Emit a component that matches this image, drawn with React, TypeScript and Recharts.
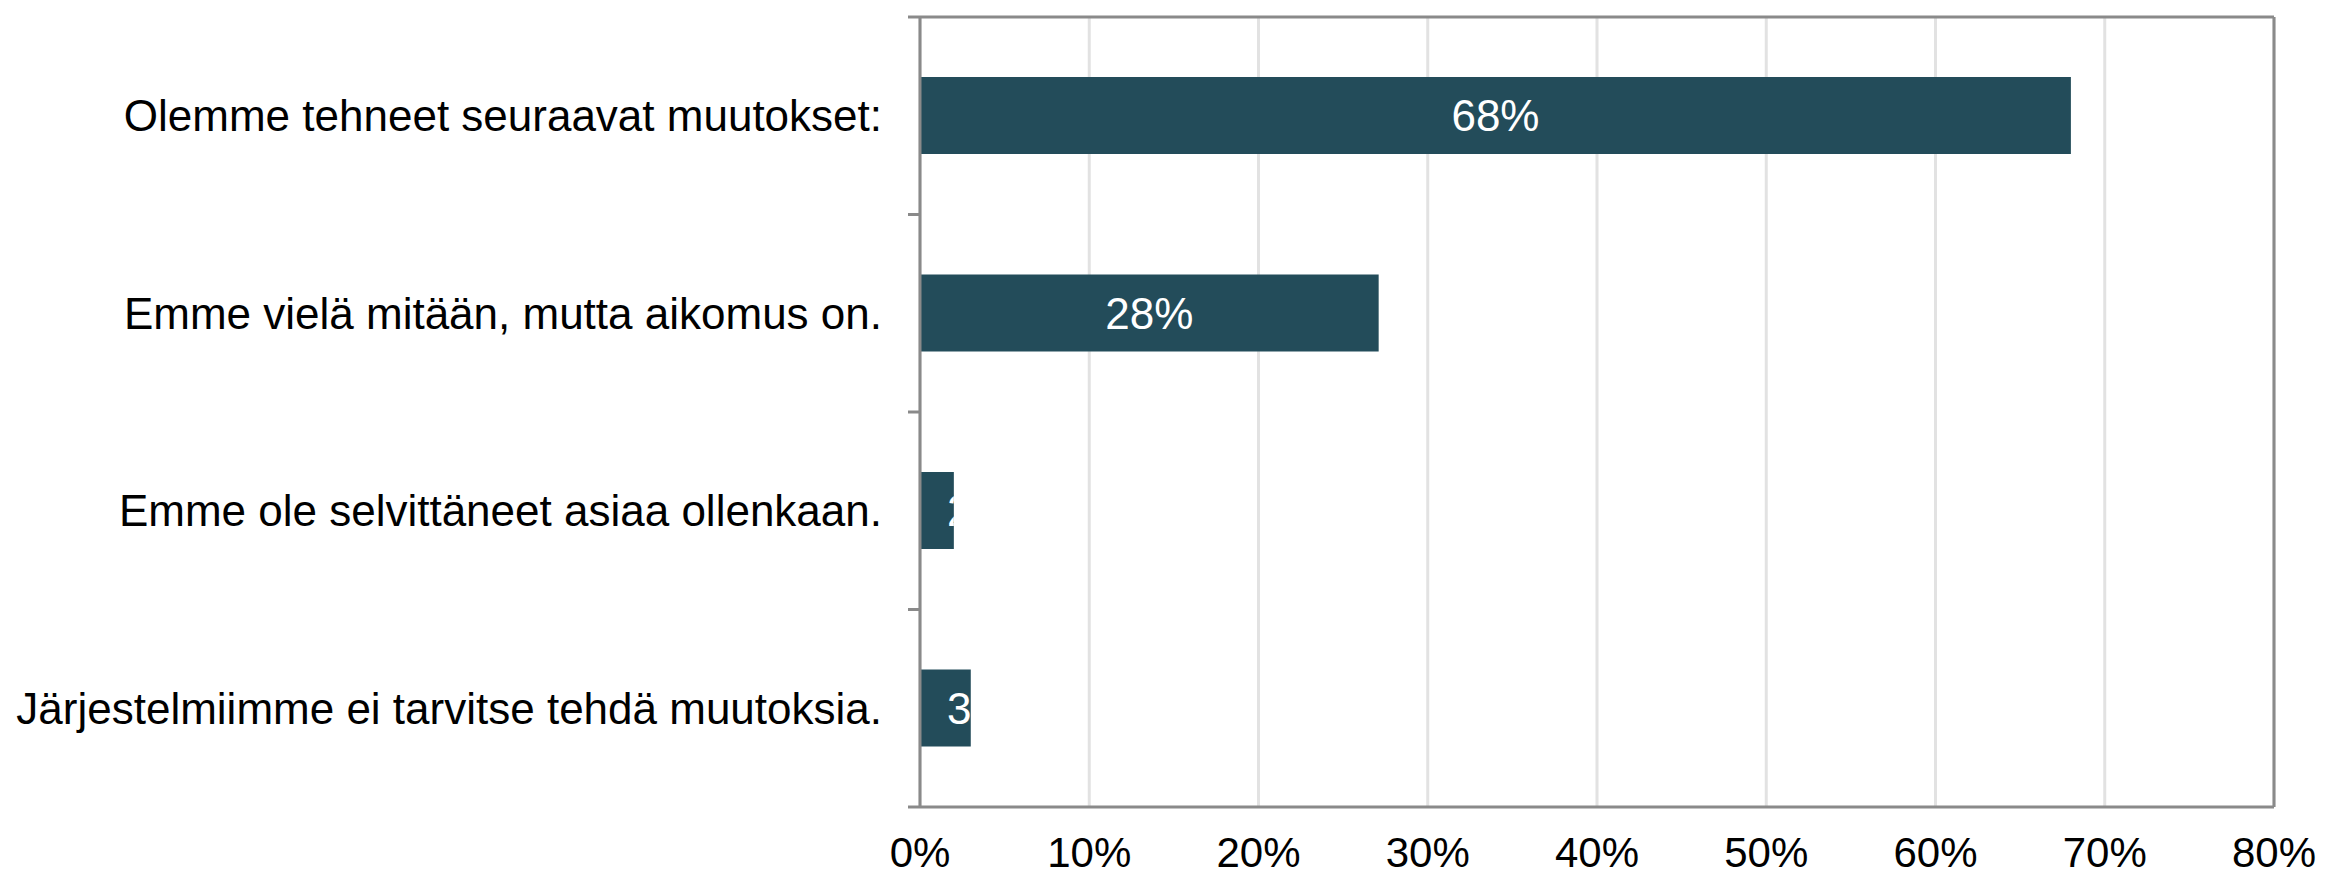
import React from "react";
import {
  BarChart,
  Bar,
  XAxis,
  YAxis,
  CartesianGrid,
  LabelList,
} from "recharts";

// survey answers, top to bottom
const categories = [
  "Olemme tehneet seuraavat muutokset:",
  "Emme vielä mitään, mutta aikomus on.",
  "Emme ole selvittäneet asiaa ollenkaan.",
  "Järjestelmiimme ei tarvitse tehdä muutoksia.",
];
const shares = [68, 27.1, 2, 3];
const barLabels = ["68%", "28%", "2%", "3%"];
const xTicks = [0, 10, 20, 30, 40, 50, 60, 70, 80];

const data = categories.map((name, i) => ({ name, value: shares[i] }));

const FONT = "'Liberation Sans', Arial, sans-serif";
const AXIS = "#8a8a8a";
const BAR = "#234c5a";
const CAT_MARGIN = 38;
const BOUND_TICK = 12;

const NoText = () => <g />;

// category label + tick marks on the band boundaries (Excel style)
const CategoryTick = (props: any) => {
  const { x, y, payload, index, visibleTicksCount } = props;
  const half = payload?.offset ?? 0;
  const axisX = x + CAT_MARGIN;
  const isLast = index === (visibleTicksCount ?? categories.length) - 1;
  return (
    <g>
      <line
        x1={axisX - BOUND_TICK}
        x2={axisX}
        y1={y - half}
        y2={y - half}
        stroke={AXIS}
        strokeWidth={3}
      />
      {isLast && (
        <line
          x1={axisX - BOUND_TICK}
          x2={axisX}
          y1={y + half}
          y2={y + half}
          stroke={AXIS}
          strokeWidth={3}
        />
      )}
      <text
        x={x}
        y={y}
        dy="0.355em"
        textAnchor="end"
        fill="#000"
        fontSize={44}
        fontFamily={FONT}
      >
        {payload.value}
      </text>
    </g>
  );
};

// white label in the bar, clipped to the bar like the original
const BarLabel = (props: any) => {
  const { x, y, width, height, index } = props;
  const text = barLabels[index];
  const fits = width > 120;
  const clipId = `bar-clip-${index}`;
  return (
    <g>
      <defs>
        <clipPath id={clipId}>
          <rect x={x} y={y} width={width} height={height} />
        </clipPath>
      </defs>
      <text
        x={fits ? x + width / 2 : x + 27}
        y={y + height / 2}
        dy="0.36em"
        textAnchor={fits ? "middle" : "start"}
        fill="#ffffff"
        fontSize={44}
        fontFamily={FONT}
        clipPath={`url(#${clipId})`}
      >
        {text}
      </text>
    </g>
  );
};

export default function App() {
  return (
    <div style={{ position: "absolute", left: 0, top: 0, fontFamily: FONT }}>
      <BarChart
        width={2343}
        height={877}
        data={data}
        layout="vertical"
        margin={{ top: 0, right: 68, bottom: 0, left: 0 }}
      >
        <CartesianGrid
          horizontal={false}
          stroke="#e2e2e2"
          strokeWidth={3}
        />
        <XAxis
          type="number"
          domain={[0, 80]}
          ticks={xTicks}
          tickFormatter={(v) => `${v}%`}
          height={70}
          stroke={AXIS}
          strokeWidth={3}
          tickLine={false}
          tickSize={0}
          tickMargin={30}
          tick={{ fill: "#000", fontSize: 42, fontFamily: FONT }}
          interval={0}
        />
        <XAxis
          xAxisId="top"
          orientation="top"
          type="number"
          domain={[0, 80]}
          ticks={xTicks}
          height={17}
          stroke={AXIS}
          strokeWidth={3}
          tickSize={12}
          tickLine={{ stroke: AXIS, strokeWidth: 3 }}
          tick={NoText}
          interval={0}
        />
        <YAxis
          type="category"
          dataKey="name"
          width={920}
          stroke={AXIS}
          strokeWidth={3}
          tickLine={false}
          tickSize={0}
          tickMargin={CAT_MARGIN}
          tick={<CategoryTick />}
          interval={0}
        />
        <YAxis
          yAxisId="right"
          orientation="right"
          type="number"
          domain={[0, 4]}
          width={1}
          stroke={AXIS}
          strokeWidth={3}
          tickLine={false}
          tick={false}
        />
        <Bar
          dataKey="value"
          fill={BAR}
          barSize={77}
          isAnimationActive={false}
        >
          <LabelList dataKey="value" content={BarLabel} />
        </Bar>
      </BarChart>
    </div>
  );
}
